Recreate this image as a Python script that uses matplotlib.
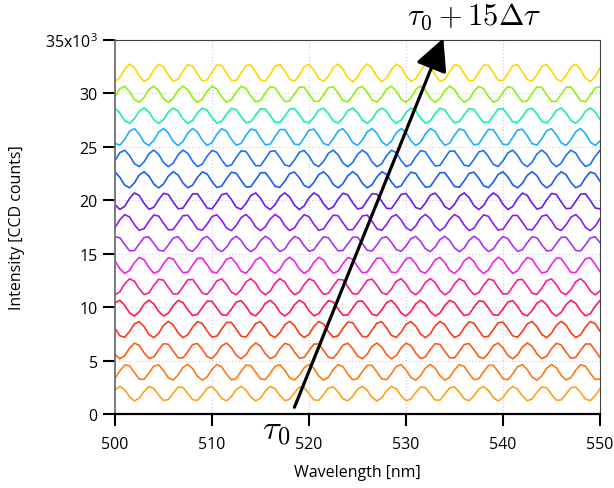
import numpy as np
import matplotlib
matplotlib.use("Agg")
import matplotlib.pyplot as plt

plt.rcParams['font.family'] = ['Open Sans', 'DejaVu Sans']
plt.rcParams['mathtext.fontset'] = 'cm'

# ---- data ----
wl_start, wl_stop, wl_step = 500.0, 550.0, 0.5          # sampled wavelength grid [nm]
baseline = [1900, 3900, 5900, 7900, 9900, 11900, 13900, 15900,
            17900, 19900, 21900, 23900, 25900, 27900, 29900, 31900]   # counts
amplitude = [680, 740, 740, 760, 740, 760, 760, 720,
             760, 780, 760, 780, 800, 720, 760, 820]                   # counts
first_peak_nm = [500.5, 501.2, 502.1, 502.4, 500.4, 501.6, 502.6, 500.2,
                 501.1, 502.1, 502.96, 500.9, 501.9, 499.9, 500.9, 501.55]
fringe_period_nm = [3.12, 3.13, 3.11, 3.115, 3.11, 3.09, 3.08, 3.07,
                    3.088, 3.078, 3.079, 3.078, 3.069, 3.067, 3.058, 3.058]
colors = ['#FFA018', '#FF7A15', '#FF5A15', '#FF3A15', '#FF1A55', '#FF1A95',
          '#F020F0', '#A830FF', '#8A1AFF', '#6A1AF0', '#1A5AFF', '#1A6EFF',
          '#1AB0FF', '#1AF0A0', '#90F010', '#FFD700']
yticks = [0, 5000, 10000, 15000, 20000, 25000, 30000, 35000]
ytick_labels = ['0', '5', '10', '15', '20', '25', '30', r'$\mathregular{35x10^{3}}$']
xticks = [500, 510, 520, 530, 540, 550]

fig = plt.figure(figsize=(6.14, 4.89), dpi=100)
ax = fig.add_axes([115/614, 1-415/489, 485/614, (415-40.7)/489])

wl = np.arange(wl_start, wl_stop + 1e-9, wl_step)
for b, a, p0, per, c in zip(baseline, amplitude, first_peak_nm, fringe_period_nm, colors):
    y = b + a*np.cos(2*np.pi*(wl - p0)/per)
    ax.plot(wl, y, color=c, lw=1.2)

ax.set_xlim(500, 550)
ax.set_ylim(0, 35000)
ax.set_xticks(xticks)
ax.set_xticklabels([str(t) for t in xticks])
ax.set_yticks(yticks)
ax.set_yticklabels(ytick_labels)
ax.grid(True, color='#C8C8F0', linestyle=(0, (1, 2)), lw=0.8)
ax.tick_params(axis='both', direction='out', length=8.5, width=1.5, labelsize=11.5, colors='k')
ax.tick_params(axis='y', pad=4)
ax.tick_params(axis='x', pad=7)
ax.spines['left'].set_color('#707070')
ax.spines['left'].set_linewidth(1.3)
ax.spines['bottom'].set_linewidth(1.6)
for s in ['top', 'right']:
    ax.spines[s].set_color('#404040')
    ax.spines[s].set_linewidth(0.8)

ax.set_xlabel('Wavelength [nm]', fontsize=11.5, labelpad=9)
ax.set_ylabel('Intensity [CCD counts]', fontsize=11.5, labelpad=14)

ax.annotate('', xy=(533.85, 35140), xytext=(518.5, 630),
            arrowprops=dict(arrowstyle='-|>,head_length=0.9,head_width=0.45',
                            lw=2.3, color='k', mutation_scale=22,
                            shrinkA=0, shrinkB=0),
            annotation_clip=False)
fig.text(276/614, 1-431/489, r'$\tau_0$', fontsize=25, ha='center', va='center')
fig.text(474/614, 1-25/489, r'$\tau_0 + 15\Delta\tau$', fontsize=22, ha='center', va='baseline')

fig.savefig('out.png', dpi=100)
